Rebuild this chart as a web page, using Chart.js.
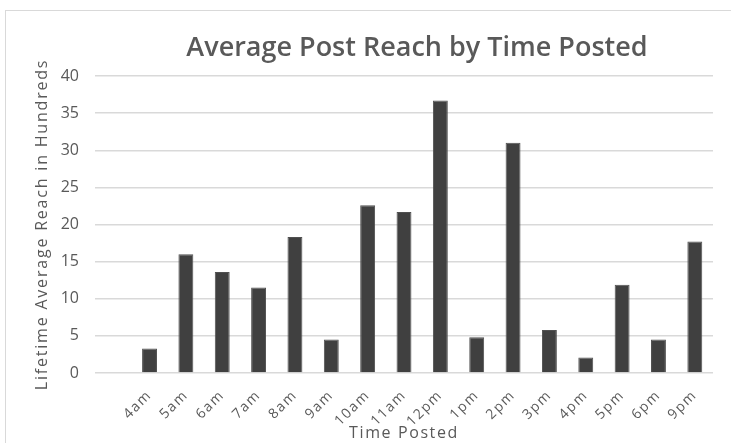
<!DOCTYPE html>
<html>
<head>
<meta charset="utf-8">
<script src="https://cdn.jsdelivr.net/npm/chart.js@4.4.1/dist/chart.umd.min.js"></script>
<style>
  html, body { margin: 0; padding: 0; overflow: hidden; background: #ffffff; width: 731px; height: 443px; }
  #wrap { position: absolute; left: 0; top: 0; width: 805px; height: 443px; }
  #frame { position: absolute; left: 5px; top: 10px; width: 900px; height: 500px; border: 1px solid #d9d9d9; pointer-events: none; }
</style>
</head>
<body>
<div id="wrap"><canvas id="c" width="805" height="443"></canvas></div>
<div id="frame"></div>
<script>
// Posting hour (the first slot has no posts)
const categories = ["", "4am", "5am", "6am", "7am", "8am", "9am", "10am", "11am", "12pm", "1pm", "2pm", "3pm", "4pm", "5pm", "6pm", "9pm"];
// Lifetime average reach, in hundreds
const reach = [null, 3.3, 16.0, 13.6, 11.5, 18.3, 4.5, 22.6, 21.7, 36.7, 4.8, 31.0, 5.8, 2.1, 11.9, 4.5, 17.7];
// Value-axis tick labels
const yTicks = [0, 5, 10, 15, 20, 25, 30, 35, 40];

const TEXT = '#595959';
const FONT = 'Open Sans';

// Give one of a scale's drawing steps a little extra letter spacing
function spaced(method, px) {
  return function (s) {
    const key = '_spaced_' + method;
    if (!s[key]) {
      const base = s[method].bind(s);
      s[method] = function (...args) {
        s.ctx.save();
        s.ctx.letterSpacing = px;
        base(...args);
        s.ctx.restore();
      };
      s[key] = true;
    }
  };
}

new Chart(document.getElementById('c'), {
  type: 'bar',
  data: {
    labels: categories,
    datasets: [{
      data: reach,
      backgroundColor: '#404040',
      borderColor: '#505050',
      borderWidth: 1,
      categoryPercentage: 1,
      barPercentage: 0.41
    }]
  },
  options: {
    responsive: false,
    animation: false,
    layout: { padding: { left: 29, top: 0, right: 0, bottom: 0 } },
    plugins: {
      legend: { display: false },
      tooltip: { enabled: false },
      title: {
        display: true,
        text: 'Average Post Reach by Time Posted',
        color: TEXT,
        font: { family: FONT, size: 27, weight: '600' },
        padding: { top: 32, bottom: 11.6 }
      }
    },
    scales: {
      x: {
        grid: { display: false },
        border: { display: false },
        ticks: {
          color: TEXT, font: { family: FONT, size: 14 },
          maxRotation: 45, minRotation: 45, autoSkip: false, padding: 6
        },
        title: {
          display: true, text: 'Time Posted', color: TEXT,
          font: { family: FONT, size: 16 }, padding: { top: 0, bottom: 0 }
        },
        afterFit(s) { s.height = 70; spaced('draw', '1.6px')(s); }
      },
      y: {
        min: 0, max: 40,
        afterBuildTicks(s) { s.ticks = yTicks.map(v => ({ value: v })); },
        ticks: { color: TEXT, font: { family: FONT, size: 16 }, padding: 16 },
        grid: { color: '#d9d9d9', lineWidth: 1.5, drawTicks: false },
        border: { display: false },
        title: {
          display: true, text: 'Lifetime Average Reach in Hundreds', color: TEXT,
          font: { family: FONT, size: 16 }, padding: { top: 4, bottom: 4 }
        },
        afterFit(s) { s.width = 66; spaced('drawTitle', '1.8px')(s); }
      },
      y2: {
        position: 'right',
        grid: { display: false, drawTicks: false },
        border: { display: false },
        ticks: { display: false },
        afterFit(s) { s.width = 92; }
      }
    }
  }
});
</script>
</body>
</html>
